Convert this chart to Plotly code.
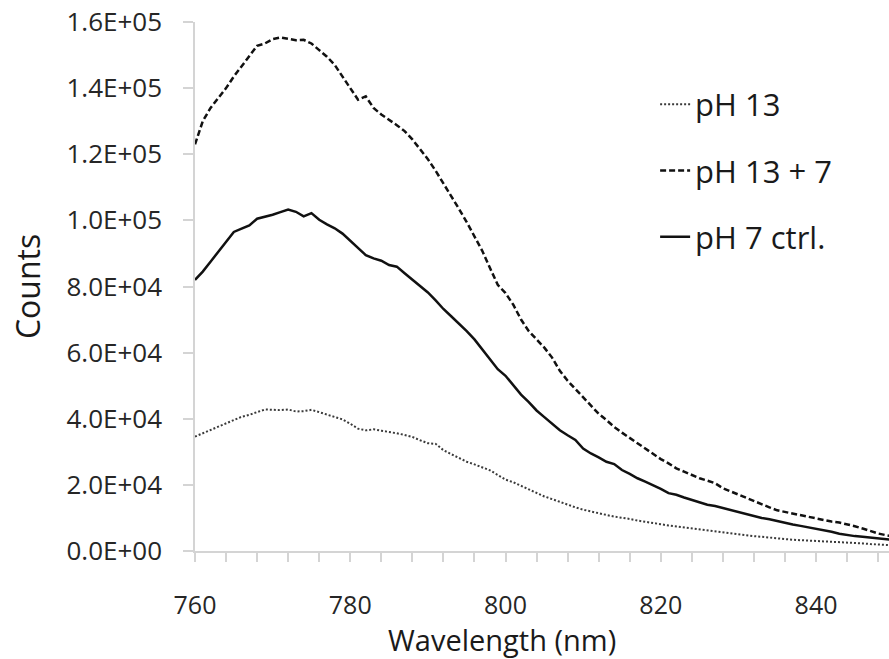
import plotly.graph_objects as go

wavelength = list(range(760, 851))

ph13 = [34600, 35500, 36600, 37600, 38600, 39800, 40600, 41200, 42000, 42800,
        42700, 42600, 42800, 42200, 42300, 42700, 42000, 41200, 40500, 39800,
        38500, 37000, 36500, 36800, 36400, 36100, 35600, 35100, 34500, 33500,
        32600, 32400, 30500, 29300, 28200, 27000, 26200, 25200, 24400, 23000,
        21600, 20800, 19700, 18600, 17600, 16500, 15700, 14800, 14000, 13200,
        12500, 11900, 11400, 10900, 10400, 10100, 9700, 9200, 8900, 8400,
        8100, 7700, 7400, 7000, 6700, 6400, 6100, 5900, 5600, 5300,
        5000, 4800, 4500, 4300, 4000, 3800, 3600, 3400, 3300, 3100,
        3000, 2900, 2800, 2800, 2700, 2500, 2300, 2100, 1900, 1800, 1700]

ph13_7 = [123000, 130000, 134000, 137000, 140000, 143500, 146500, 149500, 152800, 153500,
          154800, 155300, 154900, 154500, 154600, 153500, 151500, 149500, 147000, 143500,
          140000, 136500, 137500, 134000, 132000, 130500, 128800, 127000, 124500, 121500,
          118500, 115000, 111300, 107500, 103500, 99500, 95000, 90800, 85600, 80500,
          78000, 74500, 70000, 66500, 64000, 61500, 58500, 54500, 51500, 49000,
          46500, 44000, 41500, 39600, 37500, 35800, 34200, 32500, 31000, 29500,
          27800, 26500, 25000, 24000, 23000, 22000, 21300, 20500, 19000, 18000,
          17000, 16000, 15000, 14200, 13200, 12300, 11800, 11200, 10800, 10300,
          9800, 9300, 8900, 8600, 8100, 7500, 6800, 6000, 5300, 4800, 4400]

ph7_ctrl = [82000, 84500, 87500, 90500, 93500, 96500, 97500, 98500, 100500, 101000,
            101700, 102500, 103300, 102600, 101200, 102200, 100200, 98800, 97600, 96000,
            93800, 91500, 89500, 88500, 87800, 86500, 86000, 84000, 82000, 80000,
            78200, 75800, 73200, 71000, 68800, 66500, 64000, 61000, 58000, 55000,
            53000, 50000, 47300, 45000, 42500, 40500, 38500, 36500, 35000, 33600,
            31000, 29500, 28300, 27000, 26300, 24500, 23300, 22000, 21000, 20000,
            18800, 17500, 17000, 16200, 15500, 14900, 14000, 13600, 13000, 12400,
            11600, 11000, 10600, 10000, 9600, 9000, 8500, 8000, 7600, 7200,
            6700, 6200, 5800, 5200, 4800, 4500, 4300, 4000, 3700, 3500, 3300]

series_names = ["pH 13", "pH 13 + 7", "pH 7 ctrl."]

y_tickvals = [0, 20000, 40000, 60000, 80000, 100000, 120000, 140000, 160000]
y_ticktext = ["0.0E+00", "2.0E+04", "4.0E+04", "6.0E+04", "8.0E+04",
              "1.0E+05", "1.2E+05", "1.4E+05", "1.6E+05"]
x_tickvals = [760, 780, 800, 820, 840]
x_ticktext = ["760", "780", "800", "820", "840"]

FONT = "Open Sans"
AXIS_GRAY = "#d4d4d4"

fig = go.Figure()
fig.add_trace(go.Scatter(x=wavelength, y=ph13, mode="lines", name=series_names[0],
                         legendgroup="a",
                         line=dict(color="#3a3a3a", width=2, dash="2px,2px")))
fig.add_trace(go.Scatter(x=wavelength, y=ph13_7, mode="lines", name=series_names[1],
                         legendgroup="b",
                         line=dict(color="#111111", width=2.5, dash="6px,3px")))
fig.add_trace(go.Scatter(x=wavelength, y=ph7_ctrl, mode="lines", name=series_names[2],
                         legendgroup="c",
                         line=dict(color="#111111", width=2.5)))

fig.update_layout(
    width=889, height=659,
    margin=dict(l=195, r=0, t=22, b=108),
    paper_bgcolor="white", plot_bgcolor="white",
    font=dict(family=FONT, color="#262626"),
    showlegend=True,
    legend=dict(x=0.663, y=0.895, xanchor="left", yanchor="top",
                font=dict(size=31, color="#1a1a1a", family=FONT),
                tracegroupgap=23, itemwidth=30, bgcolor="rgba(0,0,0,0)"),
    xaxis=dict(range=[760, 849.4], showline=True, linecolor=AXIS_GRAY, linewidth=1.5,
               ticks="outside", ticklen=9, tickcolor=AXIS_GRAY, tickwidth=1.5,
               tickvals=x_tickvals, ticktext=x_ticktext, ticklabelstandoff=22,
               tickfont=dict(size=25, family=FONT, color="#262626"),
               minor=dict(dtick=4, tick0=760, ticks="outside", ticklen=9,
                          tickcolor=AXIS_GRAY, tickwidth=1.5),
               showgrid=False, zeroline=False),
    yaxis=dict(range=[0, 160000], showline=True, linecolor=AXIS_GRAY, linewidth=1.5,
               ticks="outside", ticklen=10, tickcolor=AXIS_GRAY, tickwidth=1.5,
               tickvals=y_tickvals, ticktext=y_ticktext, ticklabelstandoff=16,
               tickfont=dict(size=26, family=FONT, color="#262626"),
               showgrid=False, zeroline=False),
    annotations=[
        dict(text="Counts", xref="paper", yref="paper", x=-0.242, y=0.499,
             xanchor="center", yanchor="middle", textangle=-90, showarrow=False,
             font=dict(size=32, family=FONT, color="#1a1a1a")),
        dict(text="Wavelength (nm)", xref="paper", yref="paper", x=0.442, y=-0.168,
             xanchor="center", yanchor="middle", showarrow=False,
             font=dict(size=29, family=FONT, color="#1a1a1a")),
    ],
)

fig.write_html("out.html")
